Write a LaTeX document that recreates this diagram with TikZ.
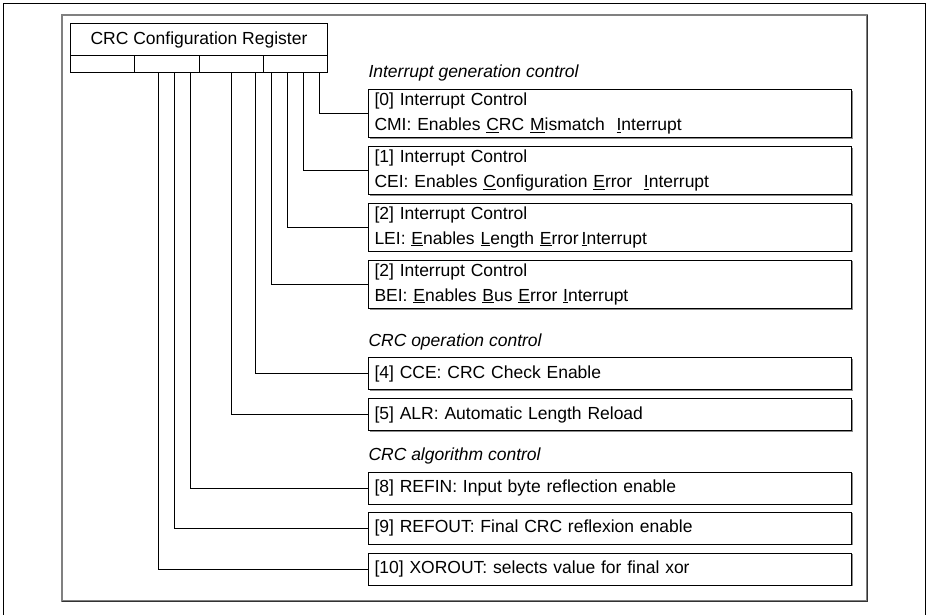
\documentclass[tikz,border=0pt]{standalone}
\usepackage{fontspec}
\setmainfont{Liberation Sans}
\usepackage{tikz}
\usetikzlibrary{shadows}
\definecolor{framegray}{RGB}{128,128,128}

\begin{document}
\begin{tikzpicture}[x=1pt, y=-1pt, line width=1pt,
    font=\fontsize{17.5}{25}\selectfont,
    fieldbox/.style={draw, anchor=north west, align=left, text width=471pt,
      inner xsep=6pt, inner ysep=0pt, fill=white,
      drop shadow={shadow xshift=1.2pt, shadow yshift=-1.2pt, fill=black!45, opacity=1}},
    heading/.style={anchor=base west, inner sep=0pt,
      font=\fontsize{17.5}{25}\selectfont\itshape},
    regcell/.style={draw, anchor=north west, minimum width=64.25pt,
      minimum height=17pt, inner sep=0pt}]
    \useasboundingbox (0,0) rectangle (926,614);
    % page frame
    \draw (3,616) |- (925,3) -- (925,616);
    % panel
    \draw[framegray, line width=1.4pt] (62,15) rectangle (867,601);
    \draw[black!80] (867.8,15) |- (62,601.8);
    % register
    \node[draw, anchor=north west, minimum width=257pt, minimum height=32pt,
      inner sep=0pt] (reg) at (70,23) {CRC Configuration Register};
    \foreach \i in {0,...,3}
      \node[regcell] (c\i) at (70+64.25*\i,55) {};
    % bit taps
    \foreach \n/\x in {cmi/319.3, cei/303.3, lei/287.7, bei/271, cce/255,
                       alr/231, refin/190.7, refout/174.3, xorout/158.5}
      \coordinate (t\n) at (\x,72);
    % interrupt generation control
    \node[heading] (hint) at (368,77) {Interrupt generation control};
    \node[fieldbox, minimum height=48pt] (cmi) at (368,89)
      {[0] Interrupt Control\\CMI: Enables \underline{C}RC \underline{M}ismatch\ \ \underline{I}nterrupt};
    \node[fieldbox, minimum height=48pt] (cei) at (368,146)
      {[1] Interrupt Control\\CEI: Enables \underline{C}onfiguration \underline{E}rror\ \ \underline{I}nterrupt};
    \node[fieldbox, minimum height=48pt] (lei) at (368,202.7)
      {[2] Interrupt Control\\LEI: \underline{E}nables \underline{L}ength \underline{E}rror\,\underline{I}nterrupt};
    \node[fieldbox, minimum height=48.5pt] (bei) at (368,259.5)
      {[2] Interrupt Control\\BEI: \underline{E}nables \underline{B}us \underline{E}rror \underline{I}nterrupt};
    % CRC operation control
    \node[heading] (hop) at (368,346.7) {CRC operation control};
    \node[fieldbox, minimum height=32pt] (cce) at (368,357.3) {[4] CCE: CRC Check Enable};
    \node[fieldbox, minimum height=32pt] (alr) at (368,398.3) {[5] ALR: Automatic Length Reload};
    % CRC algorithm control
    \node[heading] (halg) at (368,460) {CRC algorithm control};
    \node[fieldbox, minimum height=32pt] (refin) at (368,471.7) {[8] REFIN: Input byte reflection enable};
    \node[fieldbox, minimum height=32pt] (refout) at (368,511.7) {[9] REFOUT: Final CRC reflexion enable};
    \node[fieldbox, minimum height=32pt] (xorout) at (368,552.7) {[10] XOROUT: selects value for final xor};
    % connectors
    \foreach \n in {cmi,cei,lei,bei,cce,alr,refin,refout,xorout}
      \draw (t\n) |- (\n.west);
\end{tikzpicture}
\end{document}
